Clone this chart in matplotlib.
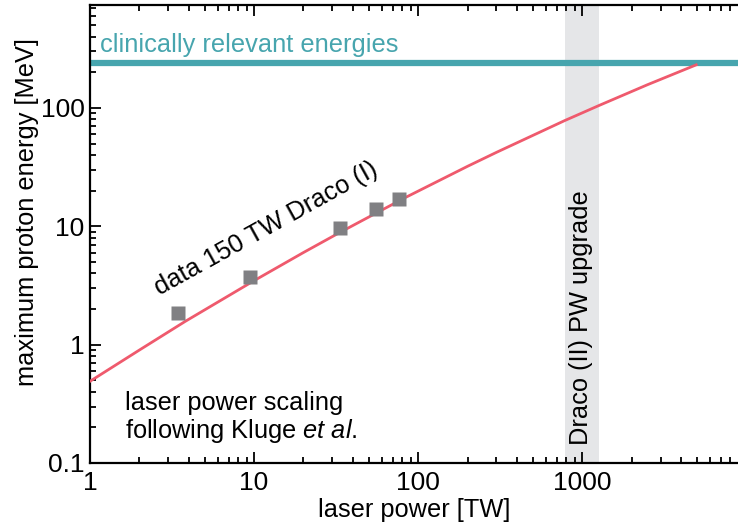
import numpy as np
import matplotlib
matplotlib.use("Agg")
from matplotlib import pyplot as plt

# curve: laser power scaling (Kluge et al.)
curve_power = [1, 2, 3.8, 10, 20, 33, 83, 200, 300, 780, 1270, 2500, 4950]
curve_energy = [0.49, 0.90, 1.57, 3.47, 6.0, 8.8, 17.4, 32.1, 42.1, 78, 105, 157, 231]

# measured points, 150 TW Draco (I)
data_power = [3.42, 9.5, 33.2, 55.6, 76]
data_energy = [1.84, 3.72, 9.75, 13.9, 16.9]

clinical_energy = 240
upgrade_band = [780, 1270]

plt.rcParams['font.family'] = ['Liberation Sans', 'DejaVu Sans']
plt.rcParams['mathtext.fontset'] = 'custom'
plt.rcParams['mathtext.rm'] = 'Liberation Sans'
plt.rcParams['mathtext.it'] = 'Liberation Sans:italic'

fs = 18.3

fig = plt.figure(figsize=(7.38, 5.27), dpi=100)
ax = fig.add_axes([90 / 738, 64 / 527, 648 / 738, 458 / 527])

ax.axvspan(upgrade_band[0], upgrade_band[1], color='#e5e6e8', lw=0, zorder=0)
ax.axhline(clinical_energy, color='#47a5ae', lw=4.5, zorder=2)
ax.plot(curve_power, curve_energy, color='#ef5a6d', lw=2, zorder=3)
ax.plot(data_power, data_energy, 's', color='#808083', ms=9.5, mec='none', zorder=4)

ax.set_xscale('log')
ax.set_yscale('log')
ax.set_xlim(1, 8900)
ax.set_ylim(0.1, 740)

ax.set_xticks([1, 10, 100, 1000])
ax.set_xticklabels(['1', '10', '100', '1000'])
ax.set_yticks([0.1, 1, 10, 100])
ax.set_yticklabels(['0.1', '1', '10', '100'])

ax.tick_params(which='both', direction='in', top=True, right=False, labelsize=19, width=1.3)
ax.tick_params(which='major', length=8)
ax.tick_params(which='minor', length=4)
ax.tick_params(axis='x', which='major', pad=6)
ax.tick_params(axis='y', which='major', pad=4)
for s in ['left', 'bottom', 'top']:
    ax.spines[s].set_linewidth(1.6)
ax.spines['right'].set_visible(False)

ax.set_xlabel('laser power [TW]', fontsize=fs, labelpad=2)
ax.set_ylabel('maximum proton energy [MeV]', fontsize=fs)
ax.yaxis.set_label_coords(-0.078, 0.548)

ax.text(0.0154, 0.897, 'clinically relevant energies', transform=ax.transAxes,
        color='#47a5ae', fontsize=fs, va='baseline', ha='left')
# rotated label placed in figure pixels (y from the bottom)
ax.text(266, 527 - 229, 'data 150 TW Draco (I)', transform=None, fontsize=fs,
        rotation=29, rotation_mode='anchor', ha='center', va='center')
ax.text(984, 1.68, 'Draco (II) PW upgrade', fontsize=fs, rotation=90,
        ha='center', va='center')
ax.text(0.054, 0.157, 'laser power scaling\nfollowing Kluge $\\mathit{et\\ al.}$',
        transform=ax.transAxes, fontsize=fs, va='top', ha='left', linespacing=1.1)

fig.savefig('out.png', dpi=100)
